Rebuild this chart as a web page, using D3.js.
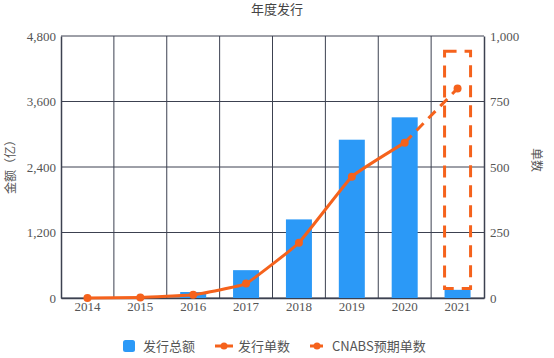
<!DOCTYPE html>
<html><head><meta charset="utf-8">
<script src="https://cdn.jsdelivr.net/npm/d3@7"></script>
<style>body{margin:0;background:#fff}svg{display:block}</style>
</head><body><svg id="c" width="554" height="358"></svg>
<script>
const years = ["2014","2015","2016","2017","2018","2019","2020","2021"];
const amount = [0, 0, 110, 510, 1440, 2900, 3310, 150];          // 发行总额 (亿)
const count = [0, 2, 12, 55, 211, 463, 593, null];              // 发行单数
const expected = [null, null, null, null, null, null, 593, 800]; // CNABS预期单数
const leftTicks = [0, 1200, 2400, 3600, 4800];
const rightTicks = [0, 250, 500, 750, 1000];
const highlightRange = [175, 4520]; // dashed box around 2021 (left axis units)
const title = "年度发行";
const leftLabel = "金额（亿）";
const rightLabel = "单数";
const legendNames = ["发行总额", "发行单数", "CNABS预期单数"];

const blue = "#2b99f7", orange = "#f5621c", grid = "#3c4150", txt = "#555";
const numFont = "'Liberation Serif','DejaVu Serif',serif";
const cjkFont = "'Noto Sans CJK SC','Liberation Serif',serif";

const svg = d3.select("#c");
const L = 61, R = 484, T = 36, B = 298;
const x = d3.scaleBand().domain(years).range([L, R]);
const yL = d3.scaleLinear().domain([0, 4800]).range([B, T]);
const yR = d3.scaleLinear().domain([0, 1000]).range([B, T]);
const bw = 26;
const cx = d => x(d) + x.bandwidth() / 2;

// grid
svg.append("g").selectAll("line").data(leftTicks).join("line")
  .attr("x1", L).attr("x2", R).attr("y1", d => yL(d)).attr("y2", d => yL(d))
  .attr("stroke", grid).attr("stroke-width", 1);
svg.append("g").selectAll("line").data(years.slice(1)).join("line")
  .attr("x1", d => x(d)).attr("x2", d => x(d)).attr("y1", T).attr("y2", B)
  .attr("stroke", grid).attr("stroke-width", 1);

// axes
const axL = svg.append("g").attr("transform", `translate(${L},0)`)
  .call(d3.axisLeft(yL).tickValues(leftTicks).tickFormat(d3.format(",")).tickSize(0).tickPadding(5));
const axR = svg.append("g").attr("transform", `translate(${R},0)`)
  .call(d3.axisRight(yR).tickValues(rightTicks).tickFormat(d3.format(",")).tickSize(0).tickPadding(6));
const axB = svg.append("g").attr("transform", `translate(0,${B})`)
  .call(d3.axisBottom(x).tickSize(0).tickPadding(4));
[axL, axR, axB].forEach(a => {
  a.attr("font-family", null);
  a.select(".domain").attr("stroke", grid).attr("stroke-width", 1.5);
  a.selectAll("text").attr("fill", txt).style("font-family", numFont).style("font-size", "13px");
});

// bars
svg.append("g").selectAll("rect").data(years).join("rect")
  .attr("x", (d) => cx(d) - bw / 2).attr("width", bw)
  .attr("y", (d, i) => yL(amount[i])).attr("height", (d, i) => B - yL(amount[i]))
  .attr("fill", blue);

// solid line
const line = d3.line().defined(d => d[1] != null).x(d => cx(d[0])).y(d => yR(d[1])).curve(d3.curveCardinal.tension(0.7));
const cData = years.map((y, i) => [y, count[i]]);
svg.append("path").attr("d", line(cData)).attr("fill", "none").attr("stroke", orange).attr("stroke-width", 3);
svg.append("g").selectAll("circle").data(cData.filter(d => d[1] != null)).join("circle")
  .attr("cx", d => cx(d[0])).attr("cy", d => yR(d[1])).attr("r", 4).attr("fill", orange);

// dashed expected line
const eData = years.map((y, i) => [y, expected[i]]);
svg.append("path").attr("d", line(eData)).attr("fill", "none").attr("stroke", orange)
  .attr("stroke-width", 3).attr("stroke-dasharray", "10,7");
const eLast = eData.filter(d => d[1] != null).slice(-1);
svg.append("g").selectAll("circle").data(eLast).join("circle")
  .attr("cx", d => cx(d[0])).attr("cy", d => yR(d[1])).attr("r", 4).attr("fill", orange);

// highlight dashed box
svg.append("rect").attr("x", cx("2021") - bw / 2).attr("width", bw)
  .attr("y", yL(highlightRange[1])).attr("height", yL(highlightRange[0]) - yL(highlightRange[1]))
  .attr("fill", "none").attr("stroke", orange).attr("stroke-width", 3).attr("stroke-dasharray", "12,8");

// title & axis labels
svg.append("text").attr("x", 277).attr("y", 14).attr("text-anchor", "middle")
  .attr("fill", "#444").style("font-family", cjkFont).style("font-size", "13px").text(title);
svg.append("text").attr("transform", `translate(15,${(T + B) / 2 - 3}) rotate(-90)`).attr("text-anchor", "middle")
  .attr("fill", txt).style("font-family", cjkFont).style("font-size", "12px").text(leftLabel);
svg.append("text").attr("transform", `translate(532,${(T + B) / 2 - 7}) rotate(90)`).attr("text-anchor", "middle")
  .attr("fill", txt).style("font-family", cjkFont).style("font-size", "12px").text(rightLabel);

// legend
const lg = svg.append("g").style("font-family", cjkFont).style("font-size", "13px");
lg.append("rect").attr("x", 123).attr("y", 340).attr("width", 12).attr("height", 12).attr("rx", 2.5).attr("fill", blue);
lg.append("text").attr("x", 143).attr("y", 350.5).attr("fill", txt).text(legendNames[0]);
lg.append("line").attr("x1", 215).attr("x2", 233).attr("y1", 346).attr("y2", 346).attr("stroke", orange).attr("stroke-width", 3);
lg.append("circle").attr("cx", 224).attr("cy", 346).attr("r", 3.5).attr("fill", orange);
lg.append("text").attr("x", 238).attr("y", 350.5).attr("fill", txt).text(legendNames[1]);
lg.append("line").attr("x1", 310).attr("x2", 323).attr("y1", 346).attr("y2", 346).attr("stroke", orange).attr("stroke-width", 3);
lg.append("circle").attr("cx", 317).attr("cy", 346).attr("r", 3.5).attr("fill", orange);
lg.append("text").attr("x", 332).attr("y", 350.5).attr("fill", txt).text(legendNames[2]);
</script></body></html>
